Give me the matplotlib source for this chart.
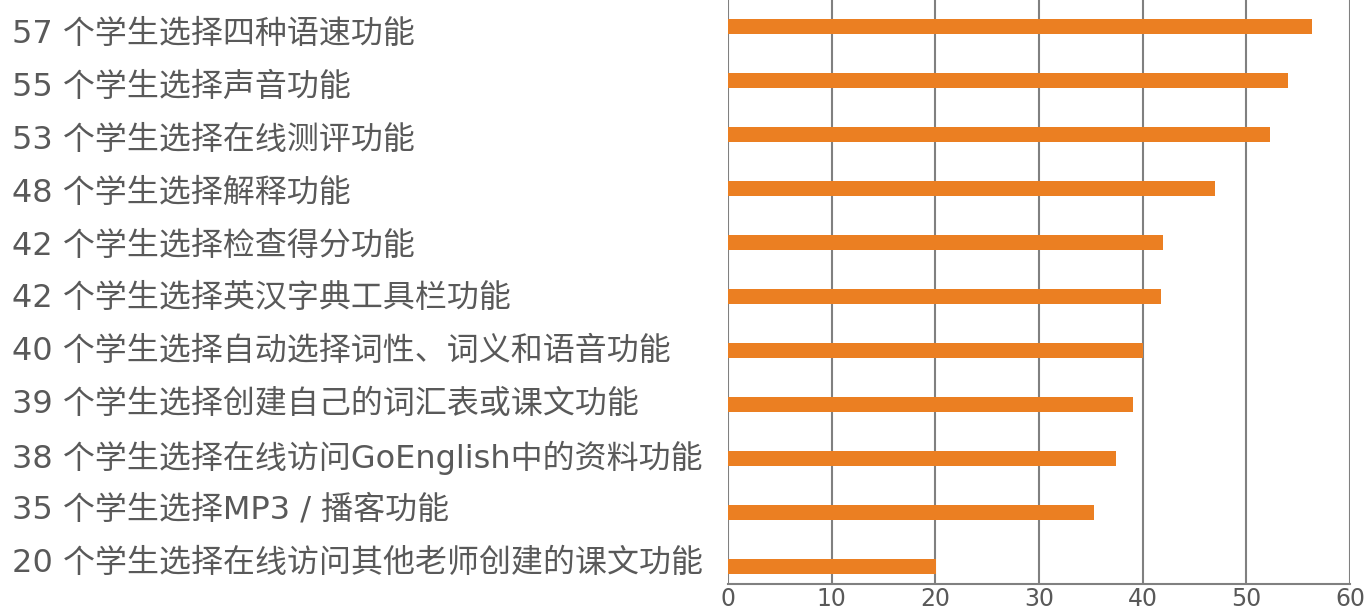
import matplotlib
matplotlib.use("Agg")
import matplotlib.pyplot as plt

plt.rcParams['font.family'] = ['DejaVu Sans', 'Noto Sans CJK SC']

# bar lengths, top to bottom
values = [56.3, 54.0, 52.3, 47.0, 42.0, 41.8, 40.0, 39.1, 37.4, 35.3, 20.1]
labels = [
    "57 个学生选择四种语速功能",
    "55 个学生选择声音功能",
    "53 个学生选择在线测评功能",
    "48 个学生选择解释功能",
    "42 个学生选择检查得分功能",
    "42 个学生选择英汉字典工具栏功能",
    "40 个学生选择自动选择词性、词义和语音功能",
    "39 个学生选择创建自己的词汇表或课文功能",
    "38 个学生选择在线访问GoEnglish中的资料功能",
    "35 个学生选择MP3 / 播客功能",
    "20 个学生选择在线访问其他老师创建的课文功能",
]
xticks = [0, 10, 20, 30, 40, 50, 60]

bar_color = "#EB7F22"
grid_color = "#808080"
text_color = "#595959"

fig = plt.figure(figsize=(13.65, 6.14), dpi=100)
ax = fig.add_axes([728 / 1365, 30 / 614, 622 / 1365, 584 / 614])

y = list(range(len(values)))
ax.barh(y, values, height=0.28, color=bar_color, zorder=3)

ax.set_xlim(0, 60)
ax.set_ylim(10.32, -0.49)
ax.set_xticks(xticks)
ax.set_yticks([])
ax.xaxis.grid(True, color=grid_color, linewidth=1.5, zorder=0)
ax.tick_params(axis="x", length=0, pad=2, labelsize=17, labelcolor=text_color)

for side in ["top", "right", "left"]:
    ax.spines[side].set_visible(False)
ax.spines["bottom"].set_color(grid_color)
ax.spines["bottom"].set_linewidth(1.5)

# category labels sit at the left edge of the figure
for i, lab in enumerate(labels):
    ypix = 35 + i * 52.8
    fig.text(12 / 1365, 1 - ypix / 614, lab, fontsize=23, color=text_color,
             fontweight="medium", ha="left", va="center")

fig.savefig("out.png", dpi=100)
